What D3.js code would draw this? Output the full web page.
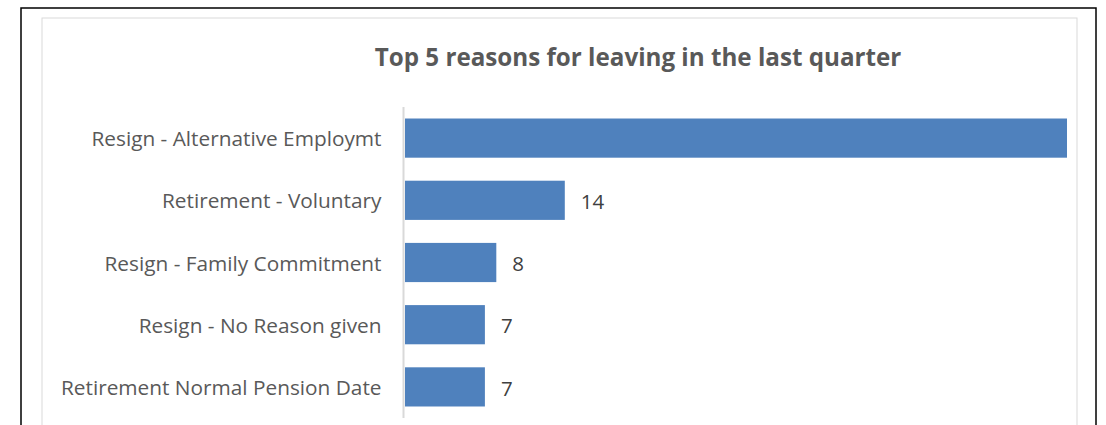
<!DOCTYPE html>
<html>
<head>
<meta charset="utf-8">
<script src="https://cdn.jsdelivr.net/npm/d3@7"></script>
<style>
  body { margin: 0; background: #fff; }
  svg { display: block; }
</style>
</head>
<body>
<div id="chart"></div>
<script>
// data
const reasons = [
  'Resign - Alternative Employmt',
  'Retirement - Voluntary',
  'Resign - Family Commitment',
  'Resign - No Reason given',
  'Retirement Normal Pension Date'
]
const leavers = [58, 14, 8, 7, 7]
const titleText = 'Top 5 reasons for leaving in the last quarter'

const W = 1106
const H = 425
const font = "'Open Sans', sans-serif"
const textColor = '#595959'

const svg = d3.select('#chart').append('svg')
  .attr('width', W)
  .attr('height', H)

// outer frame and chart box
svg.append('rect')
  .attr('x', 21).attr('y', 8)
  .attr('width', 1075).attr('height', 440)
  .attr('fill', 'none').attr('stroke', '#000').attr('stroke-width', 1.5)

svg.append('rect')
  .attr('x', 42).attr('y', 18)
  .attr('width', 1035).attr('height', 430)
  .attr('fill', '#fff').attr('stroke', '#d9d9d9').attr('stroke-width', 1)

svg.append('clipPath').attr('id', 'box')
  .append('rect').attr('x', 42).attr('y', 18).attr('width', 1035).attr('height', 430)

svg.append('text')
  .attr('x', 638).attr('y', 66)
  .attr('text-anchor', 'middle')
  .style('font-family', font)
  .style('font-size', '24.2px')
  .style('font-weight', 'bold')
  .attr('fill', textColor)
  .text(titleText)

const margin = { top: 107, left: 405 }
const plotH = 311

const y = d3.scaleBand()
  .domain(reasons)
  .range([margin.top, margin.top + plotH])
  .paddingInner(0.37)
  .paddingOuter(0.185)

const x = d3.scaleLinear()
  .domain([0, 58])
  .range([margin.left, 1067])

const g = svg.append('g').attr('clip-path', 'url(#box)')

g.selectAll('rect.bar')
  .data(leavers)
  .join('rect')
  .attr('class', 'bar')
  .attr('x', x(0))
  .attr('y', (d, i) => y(reasons[i]))
  .attr('width', d => x(d) - x(0))
  .attr('height', y.bandwidth())
  .attr('fill', '#4f81bd')

g.selectAll('text.val')
  .data(leavers)
  .join('text')
  .attr('class', 'val')
  .attr('x', d => x(d) + 16)
  .attr('y', (d, i) => y(reasons[i]) + y.bandwidth() / 2 + 1.5)
  .attr('dy', '0.35em')
  .style('font-family', font)
  .style('font-size', '20.5px')
  .attr('fill', '#404040')
  .text(d => d)

// category axis
const axis = svg.append('g')
  .attr('transform', `translate(${margin.left - 1.5},1.5)`)
  .call(d3.axisLeft(y).tickSize(0).tickPadding(22))

axis.select('.domain').attr('stroke', '#d9d9d9').attr('stroke-width', 2)
  .attr('d', `M0,${margin.top - 1.5}V${margin.top + plotH - 1.5}`)
axis.selectAll('text')
  .style('font-family', font)
  .style('font-size', '20.8px')
  .attr('fill', textColor)
</script>
</body>
</html>
